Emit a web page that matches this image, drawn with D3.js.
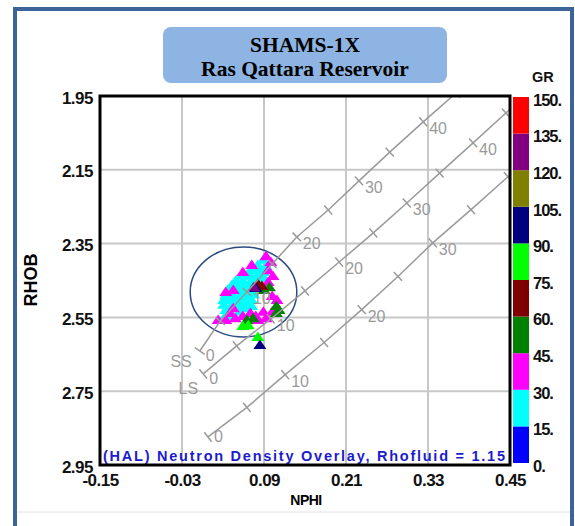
<!DOCTYPE html>
<html><head><meta charset="utf-8">
<script src="https://cdn.jsdelivr.net/npm/d3@7"></script>
<style>body{margin:0;background:#fff;}svg{display:block;}</style>
</head><body>
<svg id="chart" width="575" height="526"></svg>
<script>
// ---------------- data ----------------
const xTicks = [-0.15, -0.03, 0.09, 0.21, 0.33, 0.45];
const yTicks = [1.95, 2.15, 2.35, 2.55, 2.75, 2.95];
const grBreaks = [0, 15, 30, 45, 60, 75, 90, 105, 120, 135, 150];
const grColors = ["#0000ff", "#00ffff", "#ff00ff", "#008000", "#800000",
                  "#00ff00", "#000080", "#808000", "#800080", "#ff0000"];
const titleLines = ["SHAMS-1X", "Ras Qattara Reservoir"];
const note = "(HAL) Neutron Density Overlay, Rhofluid = 1.15";

// overlay lines: [porosity %, NPHI, RHOB]
const lithNames = ["SS", "LS", "DOL"];
const ssLine = [[0,-0.004,2.641],[5,0.026,2.560],[10,0.065,2.481],[15,0.102,2.405],[20,0.138,2.332],
                [25,0.184,2.259],[30,0.229,2.180],[35,0.274,2.102],[40,0.323,2.020],[45,0.371,1.942],[50,0.419,1.863]];
const lsLine = [[0,0.001,2.703],[5,0.050,2.627],[10,0.100,2.554],[15,0.150,2.478],[20,0.200,2.400],
                [25,0.250,2.321],[30,0.299,2.240],[35,0.347,2.159],[40,0.396,2.077],[45,0.444,1.996],[50,0.492,1.915]];
const dolLine = [[0,0.008,2.874],[5,0.065,2.794],[10,0.121,2.705],[15,0.178,2.618],[20,0.233,2.529],
                 [25,0.286,2.439],[30,0.337,2.348],[35,0.393,2.258],[40,0.447,2.169],[45,0.501,2.079]];

// ellipse (data units): centre NPHI, centre RHOB, half-width NPHI, half-height RHOB
const ellipseNphi = [0.060, 0.078];
const ellipseRhob = [2.481, 0.122];

// log samples: [NPHI, RHOB, GR]
const cyanPts = [[0.089,2.394,24],[0.081,2.408,22],[0.093,2.411,27],[0.070,2.422,20],[0.080,2.422,25],[0.089,2.427,18],
  [0.059,2.435,23],[0.070,2.438,26],[0.080,2.438,21],[0.090,2.443,19],[0.049,2.449,24],[0.059,2.449,20],[0.070,2.454,28],
  [0.080,2.449,17],[0.043,2.462,22],[0.052,2.465,25],[0.062,2.462,19],[0.070,2.470,23],[0.037,2.476,21],[0.048,2.476,26],
  [0.058,2.476,18],[0.067,2.481,24],[0.034,2.489,20],[0.045,2.492,27],[0.055,2.489,22],[0.065,2.492,19],[0.075,2.487,25],
  [0.031,2.503,23],[0.042,2.503,18],[0.052,2.503,26],[0.062,2.508,21],[0.072,2.503,24],[0.031,2.516,27],[0.042,2.519,20],
  [0.052,2.516,23],[0.062,2.525,17],[0.072,2.519,25],[0.034,2.530,22],[0.055,2.535,26],[0.031,2.552,19],[0.045,2.546,24]];
const magentaPts = [[0.093,2.384,38],[0.100,2.400,41],[0.096,2.422,35],[0.103,2.438,39],[0.072,2.408,33],[0.059,2.427,36],
  [0.096,2.454,42],[0.034,2.481,37],[0.045,2.476,34],[0.102,2.492,40],[0.109,2.503,36],[0.045,2.525,39],[0.023,2.557,33],
  [0.034,2.557,38],[0.048,2.552,41],[0.059,2.546,35],[0.070,2.538,37],[0.078,2.546,43],[0.089,2.535,34],[0.093,2.552,38],
  [0.102,2.535,40],[0.081,2.557,36],[0.040,2.538,32]];
const otherPts = [[0.090,2.476,50],[0.098,2.468,54],[0.108,2.519,48],[0.112,2.530,56],[0.108,2.538,51],[0.065,2.557,53],
  [0.074,2.552,49],[0.081,2.459,66],[0.087,2.465,70],[0.078,2.470,98],[0.075,2.468,127],[0.059,2.573,82],[0.067,2.571,85],
  [0.081,2.603,80],[0.084,2.625,96]];

// ---------------- layout ----------------
const W = 575, H = 526;
const plot = {l: 100, r: 510, t: 96, b: 465};
const font = "'Liberation Sans', Arial, sans-serif";
const svg = d3.select("#chart");

const x = d3.scaleLinear().domain([xTicks[0], xTicks[xTicks.length-1]]).range([plot.l, plot.r]);
const y = d3.scaleLinear().domain([yTicks[0], yTicks[yTicks.length-1]]).range([plot.t, plot.b]);
const cScale = d3.scaleLinear().domain([0, 150]).range([plot.b - 2, plot.t + 1]);
const color = d3.scaleThreshold().domain(grBreaks.slice(1, -1)).range(grColors);

// outer frame
svg.append("rect").attr("x", 0).attr("y", 0).attr("width", W).attr("height", H).attr("fill", "#fff");
svg.append("line").attr("x1", 17).attr("x2", 570).attr("y1", 512).attr("y2", 512)
  .attr("stroke", "#e2e2e2").attr("stroke-width", 1);
svg.append("rect").attr("x", 15).attr("y", 9).attr("width", 557).attr("height", 540)
  .attr("fill", "none").attr("stroke", "#3d6498").attr("stroke-width", 4);

// title box
svg.append("rect").attr("x", 163).attr("y", 27).attr("width", 284).attr("height", 56).attr("rx", 8)
  .attr("fill", "#8db4e2");
svg.selectAll("text.title").data(titleLines).join("text").attr("class", "title")
  .attr("x", 305).attr("y", (d, i) => 52 + i * 24).attr("text-anchor", "middle")
  .attr("font-family", "'Liberation Serif', 'Times New Roman', serif").attr("font-weight", "bold")
  .attr("font-size", 21.5).attr("fill", "#000").text(d => d);

// grid
const g = svg.append("g");
g.selectAll("line.vg").data(xTicks).join("line").attr("class", "vg")
  .attr("x1", d => x(d)).attr("x2", d => x(d)).attr("y1", plot.t).attr("y2", plot.b)
  .attr("stroke", "#c8c8c8").attr("stroke-width", 2);
g.selectAll("line.hg").data(yTicks).join("line").attr("class", "hg")
  .attr("y1", d => y(d)).attr("y2", d => y(d)).attr("x1", plot.l).attr("x2", plot.r)
  .attr("stroke", "#c8c8c8").attr("stroke-width", 2);

// clip
svg.append("clipPath").attr("id", "clip").append("rect")
  .attr("x", plot.l).attr("y", plot.t).attr("width", plot.r - plot.l).attr("height", plot.b - plot.t);
const inner = svg.append("g").attr("clip-path", "url(#clip)");

// ellipse
inner.append("ellipse")
  .attr("cx", x(ellipseNphi[0])).attr("cy", y(ellipseRhob[0]))
  .attr("rx", x(ellipseNphi[0] + ellipseNphi[1]) - x(ellipseNphi[0]))
  .attr("ry", y(ellipseRhob[0] + ellipseRhob[1]) - y(ellipseRhob[0]))
  .attr("fill", "none").attr("stroke", "#2b4c80").attr("stroke-width", 1.5);

// points
const allPts = cyanPts.concat(magentaPts, otherPts);
const tri = "M0,-5.5L6.5,4L-6.5,4Z";
inner.selectAll("path.pt").data(allPts).join("path").attr("class", "pt")
  .attr("d", tri).attr("transform", d => `translate(${x(d[0])},${y(d[1])})`)
  .attr("fill", d => color(d[2]));

// overlay lines
const lithLines = [ssLine, lsLine, dolLine];
const lithLabelOffset = [[-8, 16], [-5, 20], null];
const overlayColor = "#9a9a9a";
const lineGen = d3.line().x(d => x(d[1])).y(d => y(d[2]));
lithLines.forEach((pts, li) => {
  inner.append("path").attr("d", lineGen(pts)).attr("fill", "none")
    .attr("stroke", overlayColor).attr("stroke-width", 1.5);
  pts.forEach((p, i) => {
    const a = pts[Math.max(i - 1, 0)], b = pts[Math.min(i + 1, pts.length - 1)];
    const dx = x(b[1]) - x(a[1]), dy = y(b[2]) - y(a[2]);
    const len = Math.hypot(dx, dy);
    const nx = -dy / len * 6, ny = dx / len * 6;
    const px = x(p[1]), py = y(p[2]);
    inner.append("line").attr("x1", px - nx).attr("y1", py - ny).attr("x2", px + nx).attr("y2", py + ny)
      .attr("stroke", overlayColor).attr("stroke-width", 1.5);
    if (p[0] % 10 === 0 && p[0] <= 40) {
      const dyLab = p[0] === 0 ? (li === 2 ? 5 : 10) : 12;
      inner.append("text").attr("x", px + 6).attr("y", py + dyLab)
        .attr("font-family", font).attr("font-size", 16).attr("fill", overlayColor).text(p[0]);
    }
  });
  const off = lithLabelOffset[li];
  if (off) {
    inner.append("text").attr("x", x(pts[0][1]) + off[0]).attr("y", y(pts[0][2]) + off[1])
      .attr("text-anchor", "end").attr("font-family", font).attr("font-size", 16)
      .attr("fill", overlayColor).text(lithNames[li]);
  }
});

// note
inner.append("text").attr("x", 103).attr("y", 461).attr("textLength", 402).attr("lengthAdjust", "spacing")
  .attr("font-family", font).attr("font-size", 14.5).attr("font-weight", "bold").attr("fill", "#1c1ccc").text(note);

// plot border
svg.append("rect").attr("x", plot.l).attr("y", plot.t).attr("width", plot.r - plot.l).attr("height", plot.b - plot.t)
  .attr("fill", "none").attr("stroke", "#000").attr("stroke-width", 3);

// axes
const fmt = d => d.toFixed(2);
const ax = svg.append("g").attr("transform", `translate(0,${plot.b})`)
  .call(d3.axisBottom(x).tickValues(xTicks).tickFormat(fmt).tickSize(0).tickPadding(9));
const ay = svg.append("g").attr("transform", `translate(${plot.l},0)`)
  .call(d3.axisLeft(y).tickValues(yTicks).tickFormat(fmt).tickSize(0).tickPadding(7));
[ax, ay].forEach(a => {
  a.select(".domain").remove();
  a.selectAll("text").attr("font-family", font).attr("font-weight", "bold").attr("font-size", 17)
    .attr("fill", "#111").attr("letter-spacing", -0.5);
});
ay.selectAll(".tick text").attr("dy", "0.42em");

svg.append("text").attr("x", 306).attr("y", 505).attr("text-anchor", "middle")
  .attr("font-family", font).attr("font-weight", "bold").attr("font-size", 14).attr("letter-spacing", -0.5).text("NPHI");
svg.append("text").attr("transform", "translate(37,280) rotate(-90)").attr("text-anchor", "middle")
  .attr("font-family", font).attr("font-weight", "bold").attr("font-size", 18).text("RHOB");

// colour bar
const cb = svg.append("g");
cb.selectAll("rect").data(grColors).join("rect")
  .attr("x", 513).attr("width", 16)
  .attr("y", (d, i) => cScale(grBreaks[i + 1])).attr("height", (d, i) => cScale(grBreaks[i]) - cScale(grBreaks[i + 1]))
  .attr("fill", d => d);
cb.selectAll("text").data(grBreaks).join("text")
  .attr("x", 533).attr("y", d => cScale(d) + 3).attr("dy", "0.35em")
  .attr("font-family", font).attr("font-weight", "bold").attr("font-size", 16.5).attr("letter-spacing", -1)
  .attr("fill", "#111").text(d => d + ".");
svg.append("text").attr("x", 532).attr("y", 82).attr("font-family", font).attr("font-weight", "bold")
  .attr("font-size", 14.5).attr("fill", "#111").text("GR");
</script>
</body></html>
